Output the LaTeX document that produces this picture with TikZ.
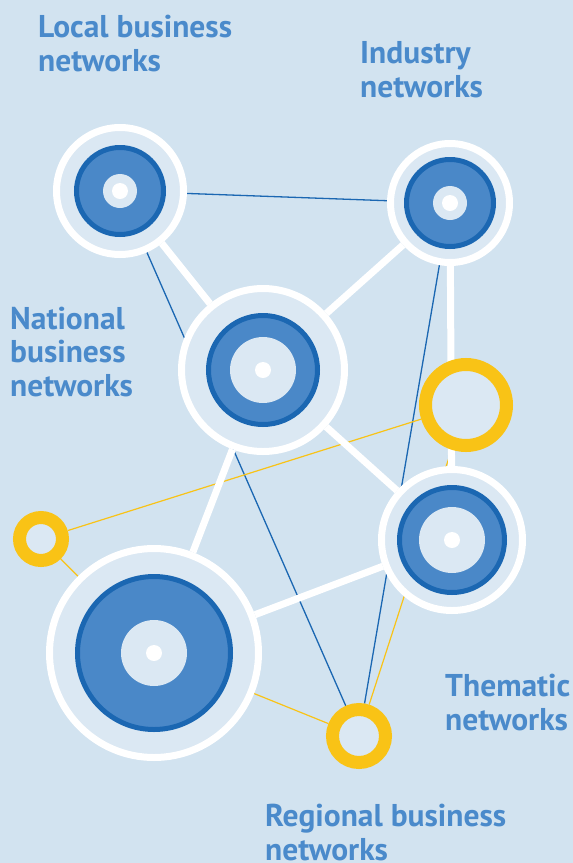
\documentclass[tikz,border=0pt]{standalone}
\usepackage{fontspec}
\setmainfont{PT Sans}

\definecolor{netbg}{HTML}{D2E3F0}
\definecolor{netpale}{HTML}{DBE8F3}
\definecolor{netblue}{HTML}{4A88C8}
\definecolor{netdark}{HTML}{1B67B2}
\definecolor{netyellow}{HTML}{F9C316}
\definecolor{nettext}{HTML}{4A8ACB}

\pgfdeclarelayer{links}
\pgfsetlayers{links,main}

\tikzset{
  hub/.style={circle, inner sep=0pt, fill=netpale, draw=white, line width=7pt},
  core/.style={circle, inner sep=0pt, fill=netblue, draw=netdark, line width=5pt},
  eye/.style={circle, inner sep=0pt, fill=netpale},
  dot/.style={circle, inner sep=0pt, fill=white, minimum size=16pt},
  spot/.style={circle, inner sep=0pt, fill=netpale, draw=netyellow, line width=13pt},
  strong/.style={white, line width=7pt},
  thinline/.style={netdark, line width=1.3pt},
  sunny/.style={netyellow, line width=1.2pt},
  netlabel/.style={anchor=base west, inner sep=0pt, align=left, text=nettext,
    font=\fontsize{31.5}{33.5}\selectfont\bfseries}
}

\begin{document}
\begin{tikzpicture}[x=1pt, y=-1pt]
    \useasboundingbox (0,0) rectangle (573,863);

    % blue hubs
    \node[hub, minimum size=127pt] (local) at (120,191) {};
    \node[core, minimum size=87pt] (local-core) at (local) {};
    \node[eye, minimum size=34pt] (local-eye) at (local) {};
    \node[dot] (local-dot) at (local) {};

    \node[hub, minimum size=119pt] (industry) at (450,203) {};
    \node[core, minimum size=87pt] (industry-core) at (industry) {};
    \node[eye, minimum size=34pt] (industry-eye) at (industry) {};
    \node[dot] (industry-dot) at (industry) {};

    \node[hub, minimum size=163pt] (national) at (263,370) {};
    \node[core, minimum size=109pt] (national-core) at (national) {};
    \node[eye, minimum size=66pt] (national-eye) at (national) {};
    \node[dot] (national-dot) at (national) {};

    \node[hub, minimum size=141pt] (thematic) at (452,540) {};
    \node[core, minimum size=105pt] (thematic-core) at (thematic) {};
    \node[eye, minimum size=66pt] (thematic-eye) at (thematic) {};
    \node[dot] (thematic-dot) at (thematic) {};

    \node[hub, minimum size=209pt] (bighub) at (154,653) {};
    \node[core, minimum size=153pt] (bighub-core) at (bighub) {};
    \node[eye, minimum size=66pt] (bighub-eye) at (bighub) {};
    \node[dot] (bighub-dot) at (bighub) {};

    % yellow rings
    \node[spot, minimum size=43pt] (spotleft) at (41,539) {};
    \node[spot, minimum size=81pt] (spotright) at (466,405) {};
    \node[spot, minimum size=53pt] (spotlow) at (359,736) {};

    % labels (base = last line)
    \node[netlabel] (local-text) at (38,71) {Local business\\networks};
    \node[netlabel] (industry-text) at (360,97) {Industry\\networks};
    \node[netlabel] (national-text) at (10,396) {National\\business\\networks};
    \node[netlabel] (thematic-text) at (445,730) {Thematic\\networks};
    \node[netlabel] (regional-text) at (265,860) {Regional business\\networks};

    \begin{pgfonlayer}{links}
        \fill[netbg] (0,0) rectangle (573,863);
        % thin links
        \draw[thinline] (local) -- (industry);
        \draw[thinline] (local) -- (spotlow);
        \draw[thinline] (industry) -- (spotlow);
        \draw[sunny] (spotleft) -- (spotright);
        \draw[sunny] (spotleft) -- (bighub);
        \draw[sunny] (bighub) -- (spotlow);
        \draw[sunny] (spotright) -- (spotlow);
        % thick links
        \draw[strong] (local) -- (national);
        \draw[strong] (industry) -- (national);
        \draw[strong] (industry) -- (thematic);
        \draw[strong] (national) -- (thematic);
        \draw[strong] (national) -- (bighub);
        \draw[strong] (bighub) -- (thematic);
    \end{pgfonlayer}
\end{tikzpicture}
\end{document}
